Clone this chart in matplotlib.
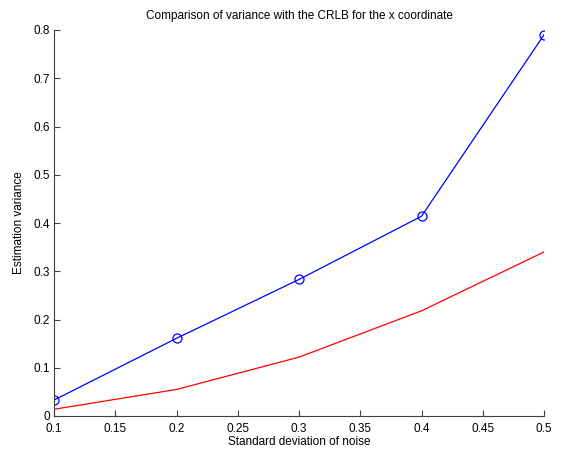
import matplotlib
matplotlib.use("Agg")
import matplotlib.pyplot as plt

plt.rcParams['font.family'] = ['Liberation Sans', 'DejaVu Sans']

sigma = [0.1, 0.2, 0.3, 0.4, 0.5]
variance = [0.033, 0.161, 0.283, 0.414, 0.790]
crlb = [0.014, 0.055, 0.122, 0.218, 0.340]

fig = plt.figure(figsize=(5.63, 4.54), dpi=100)
ax = fig.add_axes([54/563, 38/454, 490/563, 386/454])
ax.plot(sigma, variance, color='blue', lw=0.9, marker='o', ms=6.5, mfc='none', mec='blue', mew=0.9)
ax.plot(sigma, crlb, color='red', lw=0.9)

ax.set_xlim(0.1, 0.5)
ax.set_ylim(0, 0.8)
ax.set_xticks([0.1, 0.15, 0.2, 0.25, 0.3, 0.35, 0.4, 0.45, 0.5])
ax.set_xticklabels(['0.1', '0.15', '0.2', '0.25', '0.3', '0.35', '0.4', '0.45', '0.5'])
ax.set_yticks([0, 0.1, 0.2, 0.3, 0.4, 0.5, 0.6, 0.7, 0.8])
ax.set_yticklabels(['0', '0.1', '0.2', '0.3', '0.4', '0.5', '0.6', '0.7', '0.8'])
for s in ['top', 'right']:
    ax.spines[s].set_visible(False)
for s in ['left', 'bottom']:
    ax.spines[s].set_color('#404040')
    ax.spines[s].set_linewidth(0.8)
ax.tick_params(direction='in', length=4, width=0.8, color='#404040', labelsize=8.5)
ax.tick_params(axis='x', pad=5)
ax.tick_params(axis='y', pad=3)
ax.set_xlabel('Standard deviation of noise', fontsize=8.5, labelpad=1)
ax.set_ylabel('Estimation variance', fontsize=8.5, labelpad=6)
ax.set_title('Comparison of variance with the CRLB for the x coordinate', fontsize=8.5, pad=8)

fig.savefig('out.png', dpi=100)
